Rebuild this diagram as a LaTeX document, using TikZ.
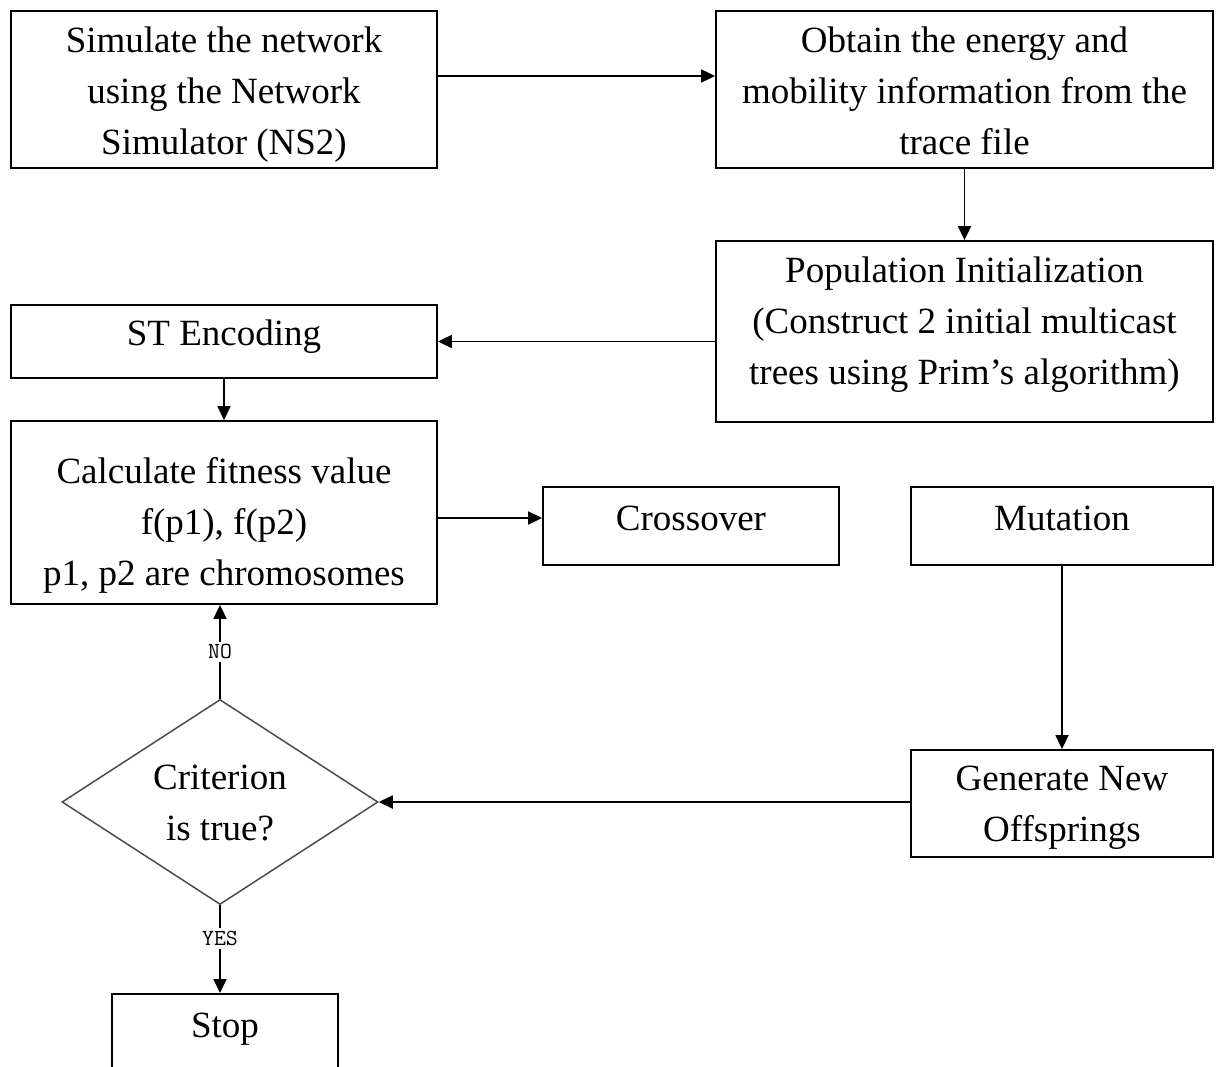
\documentclass[tikz,border=0pt]{standalone}
\usepackage{fontspec}
\setmainfont{Liberation Serif}
\usetikzlibrary{shapes.geometric,arrows.meta}
\newcommand\mystrut{\rule[-15pt]{0pt}{51pt}}
\begin{document}
\begin{tikzpicture}[x=1pt,y=-1pt,
  box/.style={draw=black,line width=1.8pt,rectangle,inner sep=0pt},
  txt/.style={font=\fontsize{37}{51}\selectfont,align=center,inner sep=0pt,
    execute at begin node=\mystrut, execute at end node=\mystrut},
  lab/.style={font=\ttfamily\fontsize{23}{23}\selectfont,fill=white,inner sep=3pt},
  arr/.style={line width=1.8pt,-{Triangle[length=14pt,width=13pt]}},
  dec/.style={draw=black!70,line width=1.5pt,diamond,inner sep=0pt}]
\useasboundingbox (0,0) rectangle (1216,1067);
\clip (0,0) rectangle (1216,1067);
% boxes
\node[box,minimum width=426,minimum height=157] (b1) at (224,89.5) {};
\node[box,minimum width=497,minimum height=157] (b2) at (964.5,89.5) {};
\node[box,minimum width=497,minimum height=181] (b3) at (964.5,331.5) {};
\node[box,minimum width=426,minimum height=73] (b4) at (224,341.5) {};
\node[box,minimum width=426,minimum height=183] (b5) at (224,512.5) {};
\node[box,minimum width=296,minimum height=78] (cross) at (691,526) {};
\node[box,minimum width=302,minimum height=78] (mut) at (1062,526) {};
\node[box,minimum width=302,minimum height=107] (gen) at (1062,803.5) {};
\node[dec,minimum width=316,minimum height=205] (dia) at (220,802) {};
\node[box,minimum width=226,minimum height=130,anchor=north] (stop) at (225,993) {};
% texts
\node[txt] (t1) at (224,98.5) {Simulate the network\\using the Network\\Simulator (NS2)};
\node[txt] (t2) at (964.5,98.5) {Obtain the energy and\\mobility information from the\\trace file};
\node[txt] (t3) at (964.5,328.5) {Population Initialization\\(Construct 2 initial multicast\\trees using Prim’s algorithm)};
\node[txt] (t4) at (224,334.5) {ST Encoding};
\node[txt] (t5) at (224,529) {Calculate fitness value\\f(p1), f(p2)\\p1, p2 are chromosomes};
\node[txt] (t6) at (691,520) {Crossover};
\node[txt] (t7) at (1062,520) {Mutation};
\node[txt] (t8) at (1062,811.5) {Generate New\\Offsprings};
\node[txt] (t9) at (220,810) {Criterion\\is true?};
\node[txt] (t10) at (225,1026.5) {Stop};
% connectors
\draw[arr] ([yshift=13.5pt]b1.east) -- ([yshift=13.5pt]b2.west);
\draw[arr] (b2.south) -- (b3.north);
\draw[arr] (b3.west |- b4.east) -- (b4.east);
\draw[arr] (b4.south) -- (b4.south |- b5.north);
\draw[arr] ([yshift=-5.5pt]b5.east) -- (cross.west |- 0,518);
\draw[arr] (mut.south) -- (gen.north);
\draw[arr] (gen.west |- dia.east) -- (dia.east);
\draw[arr] (dia.north) -- node[lab] (no) {NO} (dia.north |- b5.south);
\draw[arr] (dia.south) -- node[lab,pos=0.38] (yes) {YES} (dia.south |- stop.north);
\end{tikzpicture}
\end{document}
